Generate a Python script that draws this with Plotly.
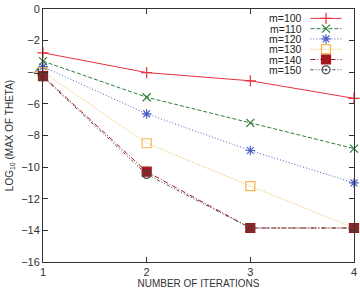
import plotly.graph_objects as go

iterations = [1, 2, 3, 4]
labels = ["m=100", "m=110", "m=120", "m=130", "m=140", "m=150"]
m100 = [-2.77, -4.02, -4.54, -5.65]
m110 = [-3.3, -5.58, -7.2, -8.83]
m120 = [-3.65, -6.63, -8.95, -11.0]
m130 = [-4.0, -8.49, -11.2, -13.85]
m140 = [-4.25, -10.29, -13.85, -13.85]
m150 = [-4.3, -10.46, -13.85, -13.85]
series = [m100, m110, m120, m130, m140, m150]

colors = ["#e4333c", "#2f7d3c", "#4a5fc4", "#f6b64e", "#a3161b", "#4a4a4a"]
dashes = ["solid", "4px,2px", "1px,2px", "1px,1.5px", "5px,2px,1px,2px", "3px,2px,1px,2px,1px,2px"]
symbols = ["cross-thin", "x-thin", "asterisk-open", "square-open", "square", "circle-open-dot"]
sizes = [8, 8, 8, 9, 9, 8]

fig = go.Figure()
for lab, ys, c, d, s, sz in zip(labels, series, colors, dashes, symbols, sizes):
    fig.add_trace(go.Scatter(
        x=iterations, y=ys, mode="lines+markers", name=lab, showlegend=False,
        line=dict(color=c, width=1, dash=d),
        marker=dict(symbol=s, size=sz, color=c, line=dict(color=c, width=1.2)),
        cliponaxis=False,
    ))

# gnuplot-style legend: text right-aligned, sample to the right (overlay axis in paper units)
for i, (lab, c, d, s, sz) in enumerate(zip(labels, colors, dashes, symbols, sizes)):
    yy = 1 - (9.5 + i * 10.4) / 256.0
    fig.add_trace(go.Scatter(
        x=[0.86, 0.96], y=[yy, yy], mode="lines", showlegend=False,
        line=dict(color=c, width=1, dash=d), xaxis="x2", yaxis="y2", hoverinfo="skip"))
    fig.add_trace(go.Scatter(
        x=[0.91], y=[yy], mode="markers", showlegend=False,
        marker=dict(symbol=s, size=sz, color=c, line=dict(color=c, width=1.2)),
        xaxis="x2", yaxis="y2", hoverinfo="skip"))
    fig.add_annotation(x=0.84, y=yy, xref="x2", yref="y2", text=lab, showarrow=False,
                       xanchor="right", yanchor="middle",
                       font=dict(size=10.5, color="#222", family="Liberation Sans, Arial"))

axis_common = dict(showgrid=False, zeroline=False, showline=True, linecolor="#333",
                   linewidth=1, mirror="allticks", ticks="inside", ticklen=5,
                   tickcolor="#333", tickfont=dict(size=11, color="#333"),
                   ticklabeloverflow="allow")

fig.update_layout(
    width=360, height=308,
    margin=dict(l=43, r=3, t=6, b=46),
    paper_bgcolor="white", plot_bgcolor="white",
    font=dict(family="Liberation Sans, Arial", color="#333"),
    xaxis=dict(range=[1, 4], tickvals=[1, 2, 3, 4],
               title=dict(text="NUMBER OF ITERATIONS", font=dict(size=10), standoff=2),
               **axis_common),
    yaxis=dict(range=[-16, 0], tickvals=list(range(-16, 1, 2)),
               title=dict(text="LOG<sub>10</sub> (MAX OF THETA)", font=dict(size=10), standoff=5),
               **axis_common),
    xaxis2=dict(range=[0, 1], overlaying="x", visible=False, fixedrange=True),
    yaxis2=dict(range=[0, 1], overlaying="y", visible=False, fixedrange=True),
)

fig.write_html("out.html")
